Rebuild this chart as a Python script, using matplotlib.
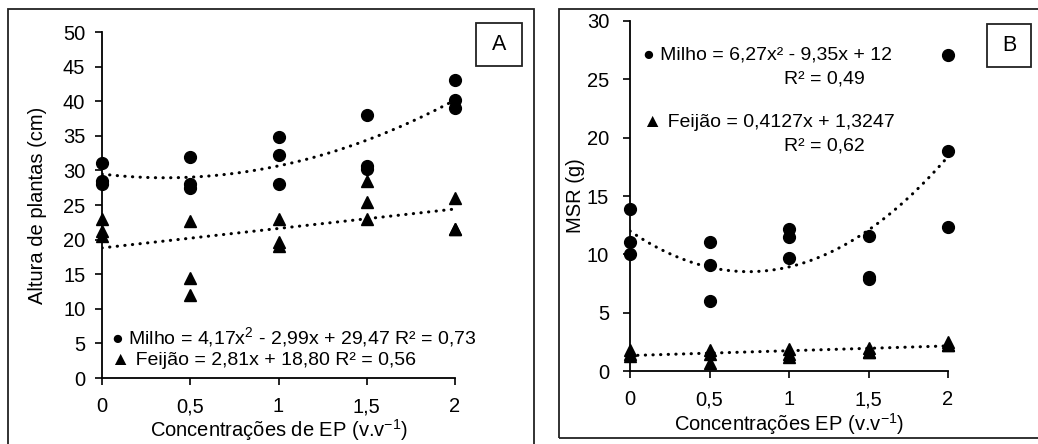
import numpy as np
import matplotlib.pyplot as plt
from matplotlib.patches import Rectangle

plt.rcParams['font.family'] = ['Liberation Sans', 'DejaVu Sans']
plt.rcParams['mathtext.fontset'] = 'custom'
plt.rcParams['mathtext.rm'] = 'Liberation Sans'
plt.rcParams['mathtext.it'] = 'Liberation Sans'

# Concentrações de EP (v.v-1)
conc = [0, 0.5, 1, 1.5, 2]

# Altura de plantas (cm), três repetições por concentração
altura_milho = [[31.0, 28.5, 28.0], [32.0, 28.0, 27.5], [34.8, 32.2, 28.0],
                [38.0, 30.6, 30.2], [43.0, 40.2, 39.0]]
altura_feijao = [[23.0, 21.3, 20.5], [22.7, 14.5, 12.0], [23.0, 19.6, 19.1],
                 [28.5, 25.5, 23.0], [26.0, 21.5, 21.5]]

# MSR (g)
msr_milho = [[13.9, 11.1, 10.0], [11.1, 9.1, 6.0], [12.2, 11.5, 9.7],
             [11.6, 8.1, 7.9], [27.1, 18.9, 12.3]]
msr_feijao = [[1.8, 1.5, 1.3], [1.8, 1.5, 0.7], [1.9, 1.5, 1.2],
              [2.0, 1.6, 1.6], [2.5, 2.2, 2.2]]

# coeficientes das linhas de tendência
coef_alt_milho = [4.17, -2.99, 29.47]
coef_alt_feijao = [2.81, 18.80]
coef_msr_milho = [6.27, -9.35, 12]
coef_msr_feijao = [0.4127, 1.3247]

xticks = [0, 0.5, 1, 1.5, 2]
xticklabels = ['0', '0,5', '1', '1,5', '2']

W, H = 1038, 444
FS = 14.5   # eixos
FT = 14     # equações


def box(x0, y0, x1, y1):
    # retângulo em pixels (origem no topo)
    return (x0 / W, 1 - y1 / H), (x1 - x0) / W, (y1 - y0) / H


def pontos(ax, dados, marker, ms):
    xs = [c for c, reps in zip(conc, dados) for _ in reps]
    ys = [v for reps in dados for v in reps]
    ax.plot(xs, ys, ls='none', marker=marker, color='black', ms=ms,
            zorder=3, clip_on=False)


def tendencia(ax, coef):
    xs = np.linspace(0, 2, 200)
    ax.plot(xs, np.polyval(coef, xs), color='black', lw=2.2,
            ls=(0, (0.1, 2.4)), dash_capstyle='round', zorder=2)


def estilo(ax, ymax, ystep, ypad):
    for s in ['top', 'right']:
        ax.spines[s].set_visible(False)
    for s in ['left', 'bottom']:
        ax.spines[s].set_linewidth(1.3)
    ax.set_xlim(0, 2)
    ax.set_ylim(0, ymax)
    ax.set_xticks(xticks)
    ax.set_xticklabels(xticklabels)
    ax.set_yticks(np.arange(0, ymax + 0.1, ystep))
    ax.tick_params(axis='both', labelsize=FS, length=5, width=1.2)
    ax.tick_params(axis='y', pad=ypad)
    ax.tick_params(axis='x', pad=9)


fig = plt.figure(figsize=(W / 100, H / 100), dpi=100)

# molduras dos painéis
for b in [box(8, 9, 534, 460), box(559, 9, 1045, 438)]:
    fig.add_artist(Rectangle(b[0], b[1], b[2], transform=fig.transFigure,
                             fill=False, lw=1.3, ec='#222222'))

# Painel A
axA = fig.add_axes([102 / W, 1 - 378 / H, (455 - 102) / W, (378 - 32) / H])
pontos(axA, altura_milho, 'o', 8.5)
pontos(axA, altura_feijao, '^', 9)
tendencia(axA, coef_alt_milho)
tendencia(axA, coef_alt_feijao)
estilo(axA, 50, 5, 7)
axA.set_ylabel('Altura de plantas (cm)', fontsize=FS)
axA.set_xlabel('Concentrações de EP (v.v$^{-1}$)', fontsize=FS)
axA.yaxis.set_label_coords(-0.155, 0.5)
axA.xaxis.set_label_coords(0.5, -0.113)
axA.text(0.05, 5.9, '● Milho = 4,17x$^2$ - 2,99x + 29,47 R² = 0,73',
         fontsize=FT, va='center', ha='left')
axA.text(0.05, 2.6, '▲ Feijão = 2,81x + 18,80 R² = 0,56',
         fontsize=FT, va='center', ha='left')

# Painel B
axB = fig.add_axes([630 / W, 1 - 371 / H, (948 - 630) / W, (371 - 21) / H])
pontos(axB, msr_milho, 'o', 8.5)
pontos(axB, msr_feijao, '^', 9)
tendencia(axB, coef_msr_milho)
tendencia(axB, coef_msr_feijao)
estilo(axB, 30, 5, 10)
axB.set_ylabel('MSR (g)', fontsize=FS)
axB.set_xlabel('Concentrações EP (v.v$^{-1}$)', fontsize=FS)
axB.yaxis.set_label_coords(-0.142, 0.5)
axB.xaxis.set_label_coords(0.5, -0.115)
axB.text(0.08, 27.1, '● Milho = 6,27x² - 9,35x + 12', fontsize=FT, va='center')
axB.text(0.97, 25.0, 'R² = 0,49', fontsize=FT, va='center')
axB.text(0.08, 21.3, '▲ Feijão = 0,4127x + 1,3247', fontsize=FT, va='center')
axB.text(0.97, 19.3, 'R² = 0,62', fontsize=FT, va='center')

# caixas com as letras dos painéis
for (x0, y0, x1, y1), letra in [((476, 23, 522, 66), 'A'), ((987, 24, 1031, 67), 'B')]:
    b = box(x0, y0, x1, y1)
    fig.add_artist(Rectangle(b[0], b[1], b[2], transform=fig.transFigure,
                             fill=False, lw=1.3, ec='#222222'))
    fig.text((x0 + x1) / 2 / W, 1 - (y0 + y1) / 2 / H, letra, fontsize=FS + 1,
             ha='center', va='center')

fig.savefig('out.png', dpi=100)
